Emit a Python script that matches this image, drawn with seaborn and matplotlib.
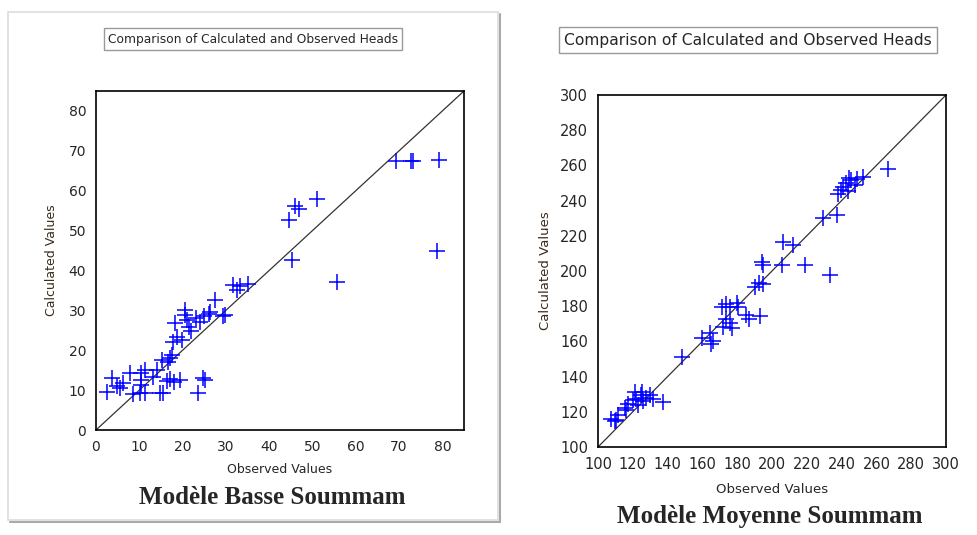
import pandas as pd
import matplotlib.pyplot as plt
import seaborn as sns
from matplotlib.patches import Rectangle
from matplotlib.ticker import MultipleLocator

# Modèle Basse Soummam: observed vs calculated heads
basse_obs = [2.6, 3.8, 4.8, 5.5, 6.3, 7.9, 8.6, 10.2, 11.3, 10.3, 10.5, 10.3,
             11.3, 13.2, 14.0, 14.8, 15.5, 15.2, 16.6, 17.0, 17.5, 16.3, 17.0,
             18.0, 19.4, 17.8, 18.6, 19.8, 18.2, 20.5, 20.5, 21.0, 21.5, 22.0,
             23.2, 24.0, 25.0, 26.0, 26.3, 27.5, 23.6, 24.8, 25.1, 29.4, 29.8,
             31.7, 32.6, 33.3, 35.2, 44.6, 45.3, 46.0, 46.9, 51.0, 55.7, 69.4,
             72.7, 73.3, 79.2, 78.7]
basse_calc = [9.6, 13.0, 11.0, 10.6, 11.8, 14.2, 9.0, 9.2, 9.2, 14.3, 12.5, 11.2,
              15.0, 13.4, 15.0, 9.2, 9.3, 17.6, 17.0, 18.0, 18.8, 12.2, 12.8,
              12.0, 12.6, 22.0, 23.4, 22.6, 26.8, 28.9, 30.0, 27.5, 25.8, 24.7,
              28.0, 27.0, 28.6, 29.0, 29.7, 32.7, 9.2, 13.0, 12.5, 28.5, 28.9,
              36.4, 35.2, 36.0, 36.6, 52.6, 42.7, 56.2, 55.5, 57.9, 37.2, 67.4,
              67.4, 67.4, 67.7, 45.0]

# Modèle Moyenne Soummam
moyenne_obs = [107.7, 110.6, 109.5, 111.5, 115.4, 117.3, 116.0, 120.0, 121.0,
               122.0, 123.0, 124.5, 125.0, 126.0, 127.8, 129.7, 131.6, 137.4,
               148.0, 159.5, 164.2, 165.2, 166.0, 171.0, 173.5, 175.7, 171.7,
               173.5, 175.7, 177.0, 179.6, 180.5, 185.3, 187.0, 193.0, 190.0,
               192.5, 195.0, 194.0, 195.0, 205.5, 206.4, 212.0, 218.9, 229.4,
               237.1, 233.2, 237.8, 239.5, 241.0, 242.5, 244.0, 245.5, 247.6,
               243.5, 248.6, 252.4, 266.8]
moyenne_calc = [116.1, 115.2, 114.5, 118.0, 122.0, 124.5, 121.0, 126.6, 131.0,
                127.5, 124.0, 129.5, 131.5, 126.0, 128.0, 129.4, 127.5, 125.6,
                151.2, 161.7, 164.5, 158.8, 160.5, 179.6, 181.0, 179.6, 168.0,
                172.5, 170.5, 167.5, 181.7, 179.6, 175.0, 173.0, 174.5, 191.0,
                193.0, 192.5, 205.0, 203.5, 203.4, 216.6, 214.7, 203.4, 229.9,
                231.8, 197.7, 244.0, 246.0, 248.0, 250.0, 253.0, 251.5, 249.0,
                245.5, 252.0, 253.6, 257.8]

sns.set_style("white")
plt.rcParams["font.family"] = ["DejaVu Sans"]

W, H = 977, 535
fig = plt.figure(figsize=(W / 100, H / 100), dpi=100)


def fx(px):
    return px / W


def fy(py):
    return 1 - py / H


# light frame around the left chart
fig.patches.append(Rectangle((fx(8), fy(520)), fx(498 - 8), (520 - 12) / H,
                             transform=fig.transFigure, fill=False,
                             edgecolor="#dddddd", lw=1.2))
fig.add_artist(plt.Line2D([fx(500), fx(500)], [fy(14), fy(522)],
                          transform=fig.transFigure, color="#aaaaaa", lw=1.5))
fig.add_artist(plt.Line2D([fx(10), fx(500)], [fy(522), fy(522)],
                          transform=fig.transFigure, color="#aaaaaa", lw=1.5))


def draw_panel(ax, obs, calc, lo, hi, major, minor, tick_fs, label_fs, pads):
    df = pd.DataFrame({"Observed Values": obs, "Calculated Values": calc})
    ax.plot([lo, hi], [lo, hi], color="#333333", lw=0.9, zorder=1)
    sns.scatterplot(data=df, x="Observed Values", y="Calculated Values",
                    marker="+", color="#0000ff", s=120, linewidth=1.1,
                    ax=ax, zorder=2)
    ax.set_xlim(lo, hi)
    ax.set_ylim(lo, hi)
    for axis in (ax.xaxis, ax.yaxis):
        axis.set_major_locator(MultipleLocator(major))
        axis.set_minor_locator(MultipleLocator(minor))
    ax.tick_params(which="both", direction="inout", length=6, width=1,
                   labelsize=tick_fs, color="black", pad=4)
    for sp in ax.spines.values():
        sp.set_color("black")
        sp.set_linewidth(1.2)
    ax.set_xlabel("Observed Values", fontsize=label_fs, labelpad=pads[0])
    ax.set_ylabel("Calculated Values", fontsize=label_fs, labelpad=pads[1],
                  color="#3a2a1a")


ax1 = fig.add_axes([fx(96), fy(430), fx(464 - 96), (430 - 91) / H])
draw_panel(ax1, basse_obs, basse_calc, 0, 85, 10, 5, 10, 9, (7, 8))

ax2 = fig.add_axes([fx(598), fy(447), fx(946 - 598), (447 - 95) / H])
draw_panel(ax2, moyenne_obs, moyenne_calc, 100, 300, 20, 10, 10.5, 9.5,
           (8, 6))

box = dict(boxstyle="square,pad=0.35", fc="white", ec="#999999", lw=1)
fig.text(fx(253), fy(39), "Comparison of Calculated and Observed Heads",
         ha="center", va="center", fontsize=8.8, bbox=box)
fig.text(fx(748), fy(40), "Comparison of Calculated and Observed Heads",
         ha="center", va="center", fontsize=11.2, bbox=box)

fig.text(fx(272), fy(497), "Modèle Basse Soummam", ha="center", va="center",
         fontsize=18, fontweight="bold", family=["Liberation Serif"])
fig.text(fx(770), fy(517), "Modèle Moyenne Soummam", ha="center",
         va="center", fontsize=18, fontweight="bold",
         family=["Liberation Serif"])

fig.savefig("out.png", dpi=100)
